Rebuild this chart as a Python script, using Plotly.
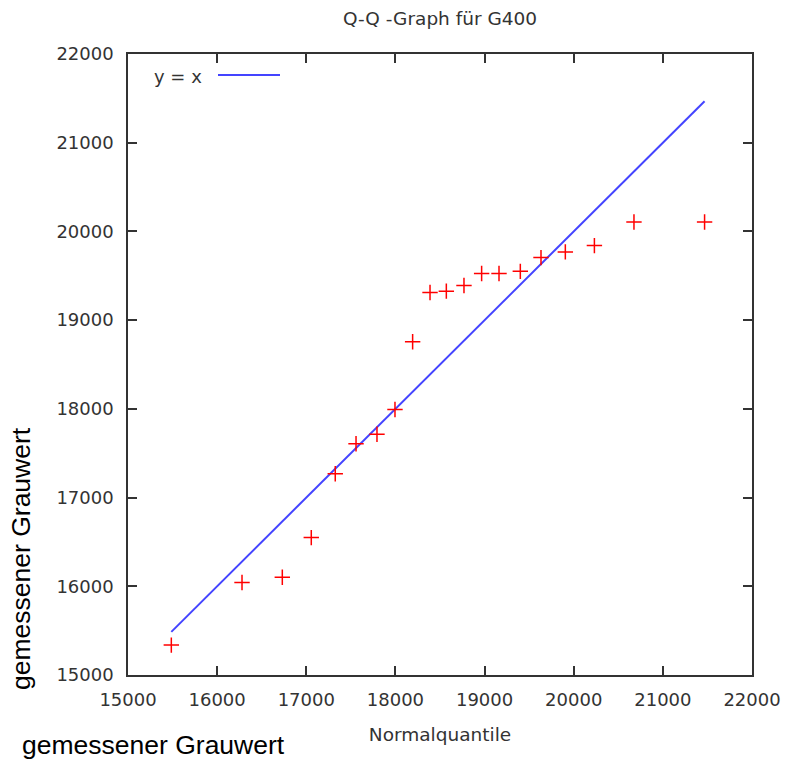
import plotly.graph_objects as go

# Normal quantiles (x) vs measured grey values (y)
normalquantile = [15486, 16279, 16731, 17056, 17325, 17558, 17793, 17995, 18193, 18388,
                  18571, 18769, 18967, 19162, 19401, 19633, 19906, 20232, 20676, 21468]
grauwert = [15337, 16043, 16102, 16549, 17269, 17606, 17714, 17992, 18757, 19312,
            19327, 19390, 19525, 19525, 19550, 19705, 19769, 19840, 20107, 20107]

line_x = [min(normalquantile), max(normalquantile)]
line_y = line_x

tick_vals = [15000, 16000, 17000, 18000, 19000, 20000, 21000, 22000]
tick_text = [str(v) for v in tick_vals]

W, H = 788, 760
L, R, T, B = 128, 36, 54, 85
TXT = "#333333"
FONT = "DejaVu Sans"

fig = go.Figure()
fig.add_trace(go.Scatter(
    x=line_x, y=line_y, mode="lines", name="y = x",
    line=dict(color="#4444ff", width=2), showlegend=False))
fig.add_trace(go.Scatter(
    x=normalquantile, y=grauwert, mode="markers", name="Daten",
    marker=dict(symbol="cross-thin", size=11, line=dict(color="red", width=1.5), color="red"),
    showlegend=False))

axis_common = dict(
    range=[15000, 22000], tickmode="array", tickvals=tick_vals, ticktext=tick_text,
    showgrid=False, zeroline=False, showline=True, linecolor="#333333", linewidth=1.5,
    mirror="ticks", ticks="inside", ticklen=9, tickwidth=1.5, tickcolor="#333333",
    tickfont=dict(family=FONT, size=18, color=TXT), automargin=False,
)

fig.update_layout(
    width=W, height=H,
    margin=dict(l=L, r=R, t=T, b=B, pad=0, autoexpand=False),
    paper_bgcolor="white", plot_bgcolor="white",
    title=dict(text="Q-Q -Graph für G400", x=(L + (W - R)) / 2 / W, xanchor="center",
               y=1 - 19 / H, yanchor="middle", yref="container",
               font=dict(family=FONT, size=18.5, color=TXT)),
    xaxis=dict(**axis_common, ticklabelstandoff=8,
               title=dict(text="Normalquantile", standoff=19,
                          font=dict(family=FONT, size=18.5, color=TXT))),
    yaxis=dict(**axis_common, ticklabelstandoff=9),
    showlegend=False,
)

# gnuplot-style key: text left, line sample right (top-left inside plot)
pw = W - L - R
ph = H - T - B
fig.add_annotation(x=(204 - L) / pw, y=1 - (76 - T) / ph, xref="paper", yref="paper",
                   text="y = x", showarrow=False, xanchor="right", yanchor="middle",
                   font=dict(family=FONT, size=18, color=TXT))
fig.add_shape(type="line", xref="paper", yref="paper",
              x0=(218 - L) / pw, x1=(280 - L) / pw,
              y0=1 - (75 - T) / ph, y1=1 - (75 - T) / ph,
              line=dict(color="#4444ff", width=2))

# y-axis label (rotated) and duplicated horizontal label below
fig.add_annotation(x=(21 - L) / pw, y=1 - (559 - T) / ph, xref="paper", yref="paper",
                   text="gemessener Grauwert", showarrow=False, textangle=-90,
                   xanchor="center", yanchor="middle",
                   font=dict(family="Liberation Sans", size=26.5, color="black"))
fig.add_annotation(x=(153 - L) / pw, y=-(745 - (T + ph)) / ph, xref="paper", yref="paper",
                   text="gemessener Grauwert", showarrow=False,
                   xanchor="center", yanchor="middle",
                   font=dict(family="Liberation Sans", size=26.5, color="black"))

fig.write_html("out.html")
